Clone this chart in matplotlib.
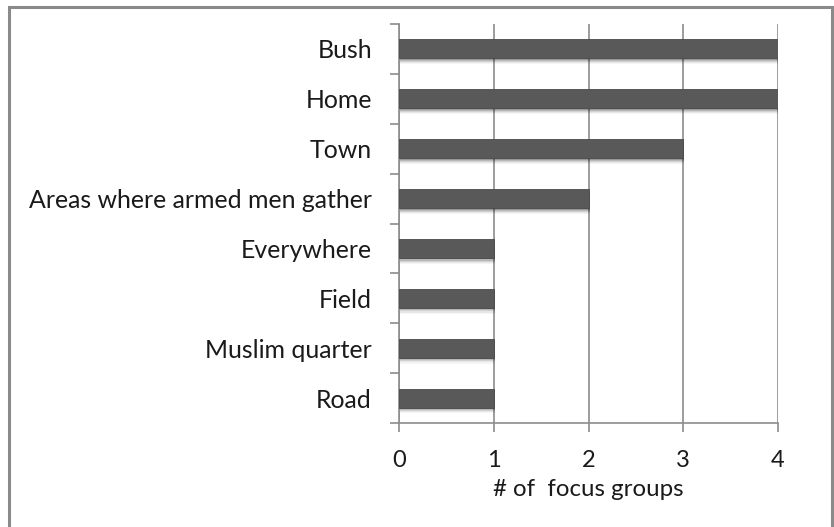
import matplotlib.pyplot as plt
import matplotlib.patches as patches
import numpy as np

categories = ["Road", "Muslim quarter", "Field", "Everywhere",
              "Areas where armed men gather", "Town", "Home", "Bush"]
counts = [1, 1, 1, 1, 2, 3, 4, 4]
x_ticks = [0, 1, 2, 3, 4]
x_label = "# of  focus groups"

plt.rcParams["font.family"] = ["Lato", "DejaVu Sans"]

W, H = 834, 527
fig = plt.figure(figsize=(W / 100, H / 100), dpi=100)
ax = fig.add_axes([399 / W, 1 - 423 / H, (778 - 399) / W, (423 - 24) / H])

grey = "#8c8c8c"
y = np.arange(len(categories))
bar_h = 0.38

# soft shadow under the bars
for k, a in enumerate([0.16, 0.12, 0.09, 0.06, 0.04]):
    off = 0.03 + 0.022 * k
    ax.barh(y - off, counts, height=bar_h, left=0.012, color="black",
            alpha=a, linewidth=0, zorder=2)
ax.barh(y, counts, height=bar_h, color="#595959", edgecolor="#4a4a4a",
        linewidth=0.6, zorder=3)

ax.set_xlim(0, 4)
ax.set_ylim(-0.5, len(categories) - 0.5)
ax.set_xticks(x_ticks)
ax.set_xticklabels([str(v) for v in x_ticks], fontsize=17, color="#1a1a1a")
ax.set_yticks(y)
ax.set_yticklabels(categories, fontsize=17.9, color="#1a1a1a")
ax.tick_params(axis="y", which="major", length=0, pad=19.5)
ax.set_yticks(np.arange(-0.5, len(categories), 1.0), minor=True)
ax.tick_params(axis="y", which="minor", length=6.5, color=grey, width=1.2)
ax.tick_params(axis="x", which="major", length=6.5, color=grey, width=1.2,
               pad=13, direction="out")
ax.xaxis.grid(True, color=grey, linewidth=1.2, zorder=0)
ax.set_axisbelow(True)
for side in ["top", "right"]:
    ax.spines[side].set_visible(False)
for side in ["left", "bottom"]:
    ax.spines[side].set_color(grey)
    ax.spines[side].set_linewidth(1.2)
ax.set_xlabel(x_label, fontsize=17.3, color="#1a1a1a", labelpad=6)

# outer frame
frame = patches.Rectangle((9 / W, -0.05), (832 - 9) / W, 1.05 - 7 / H,
                          transform=fig.transFigure, fill=False,
                          edgecolor="#8a8a8a", linewidth=2.2)
fig.patches.append(frame)

fig.savefig("out.png", dpi=100)
